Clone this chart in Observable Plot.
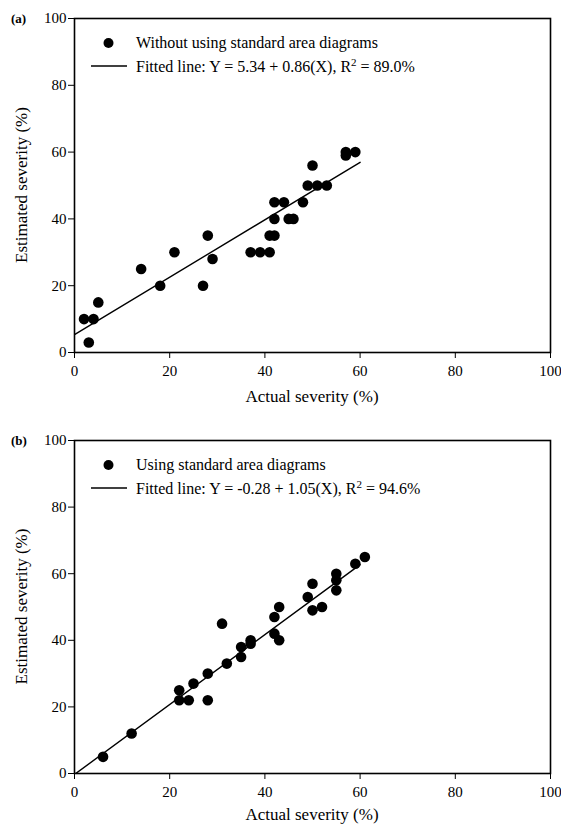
<!DOCTYPE html>
<html><head><meta charset="utf-8">
<script src="https://cdn.jsdelivr.net/npm/d3@7"></script>
<script src="https://cdn.jsdelivr.net/npm/@observablehq/plot@0.6"></script>
<style>body{margin:0;background:#fff} #c svg{display:block}</style>
</head><body><div id="c"></div>
<script>
// Panel (a): without standard area diagrams
const actualA    = [2, 3, 4, 5, 14, 18, 21, 27, 28, 29, 37, 39, 41, 41, 42, 42, 42, 44, 45, 46, 48, 49, 50, 51, 53, 57, 57, 59];
const estimatedA = [10, 3, 10, 15, 25, 20, 30, 20, 35, 28, 30, 30, 30, 35, 35, 40, 45, 45, 40, 40, 45, 50, 56, 50, 50, 60, 59, 60];
const interceptA = 5.34, slopeA = 0.86, fitRangeA = [0, 60];
const legendPointA = "Without using standard area diagrams";
const legendLineA = ["Fitted line: Y = 5.34 + 0.86(X), R", "2", " = 89.0%"];

// Panel (b): using standard area diagrams
const actualB    = [6, 12, 22, 22, 24, 25, 28, 28, 31, 32, 35, 35, 37, 37, 42, 42, 43, 43, 49, 50, 50, 52, 55, 55, 55, 59, 61];
const estimatedB = [5, 12, 25, 22, 22, 27, 30, 22, 45, 33, 38, 35, 40, 39, 47, 42, 50, 40, 53, 57, 49, 50, 60, 58, 55, 63, 65];
const interceptB = -0.28, slopeB = 1.05, fitRangeB = [0, 60];
const legendPointB = "Using standard area diagrams";
const legendLineB = ["Fitted line: Y = -0.28 + 1.05(X), R", "2", " = 94.6%"];

const ticks = [0, 20, 40, 60, 80, 100];
const xTitle = "Actual severity (%)";
const yTitle = "Estimated severity (%)";

function panel({tag, actual, estimated, intercept, slope, fitRange, legendPoint, legendLine, height, marginTop, marginBottom, titleGap}) {
  const pts = actual.map((a, i) => ({a, e: estimated[i]}));
  const fit = fitRange.map(x => ({a: x, e: intercept + slope * x}));
  const marginLeft = 74, marginRight = 11, width = 561;
  const svg = Plot.plot({
    width, height, marginLeft, marginRight, marginTop, marginBottom,
    style: {fontFamily: "'Liberation Serif', 'Times New Roman', serif", fontSize: "15px", color: "black", background: "white", overflow: "visible"},
    x: {domain: [0, 100]},
    y: {domain: [0, 100]},
    marks: [
      Plot.axisX({ticks, tickSize: 6, tickPadding: 7, label: null, fontSize: 15}),
      Plot.axisY({ticks, tickSize: 6, tickPadding: 2, label: null, fontSize: 15}),
      Plot.line(fit, {x: "a", y: "e", stroke: "black", strokeWidth: 1.4, clip: true}),
      Plot.dot(pts, {x: "a", y: "e", r: 5.3, fill: "black", stroke: "none"}),
      Plot.frame({stroke: "black", strokeWidth: 1.6})
    ]
  });
  const s = d3.select(svg);
  const plotH = height - marginTop - marginBottom;
  const left = marginLeft, top = marginTop, bottom = marginTop + plotH;
  const g = s.append("g").attr("fill", "black").attr("text-anchor", "start");
  // panel tag
  g.append("text").attr("x", 11).attr("y", top + 5).attr("font-weight", "bold").attr("font-size", 13).text(tag);
  // legend
  g.append("circle").attr("cx", left + 34.5).attr("cy", top + 25).attr("r", 5);
  g.append("text").attr("x", left + 62).attr("y", top + 29.5).attr("font-size", 16).text(legendPoint);
  g.append("line").attr("x1", left + 17).attr("x2", left + 53).attr("y1", top + 48).attr("y2", top + 48)
    .attr("stroke", "black").attr("stroke-width", 1.4);
  const t = g.append("text").attr("x", left + 62).attr("y", top + 54).attr("font-size", 16);
  t.append("tspan").text(legendLine[0]);
  t.append("tspan").attr("dy", -6).attr("font-size", 11).text(legendLine[1]);
  t.append("tspan").attr("dy", 6).text(legendLine[2]);
  // axis titles
  g.append("text").attr("x", left + (width - marginLeft - marginRight) / 2).attr("y", bottom + titleGap)
    .attr("text-anchor", "middle").attr("font-size", 17).text(xTitle);
  g.append("text").attr("transform", `translate(27,${top + plotH / 2}) rotate(-90)`)
    .attr("text-anchor", "middle").attr("font-size", 17).text(yTitle);
  return svg;
}

const c = document.getElementById("c");
c.appendChild(panel({tag: "(a)", actual: actualA, estimated: estimatedA, intercept: interceptA, slope: slopeA, fitRange: fitRangeA,
  legendPoint: legendPointA, legendLine: legendLineA, height: 420, marginTop: 18, marginBottom: 68, titleGap: 50}));
c.appendChild(panel({tag: "(b)", actual: actualB, estimated: estimatedB, intercept: interceptB, slope: slopeB, fitRange: fitRangeB,
  legendPoint: legendPointB, legendLine: legendLineB, height: 405, marginTop: 20, marginBottom: 52, titleGap: 47}));
</script>
</body></html>
